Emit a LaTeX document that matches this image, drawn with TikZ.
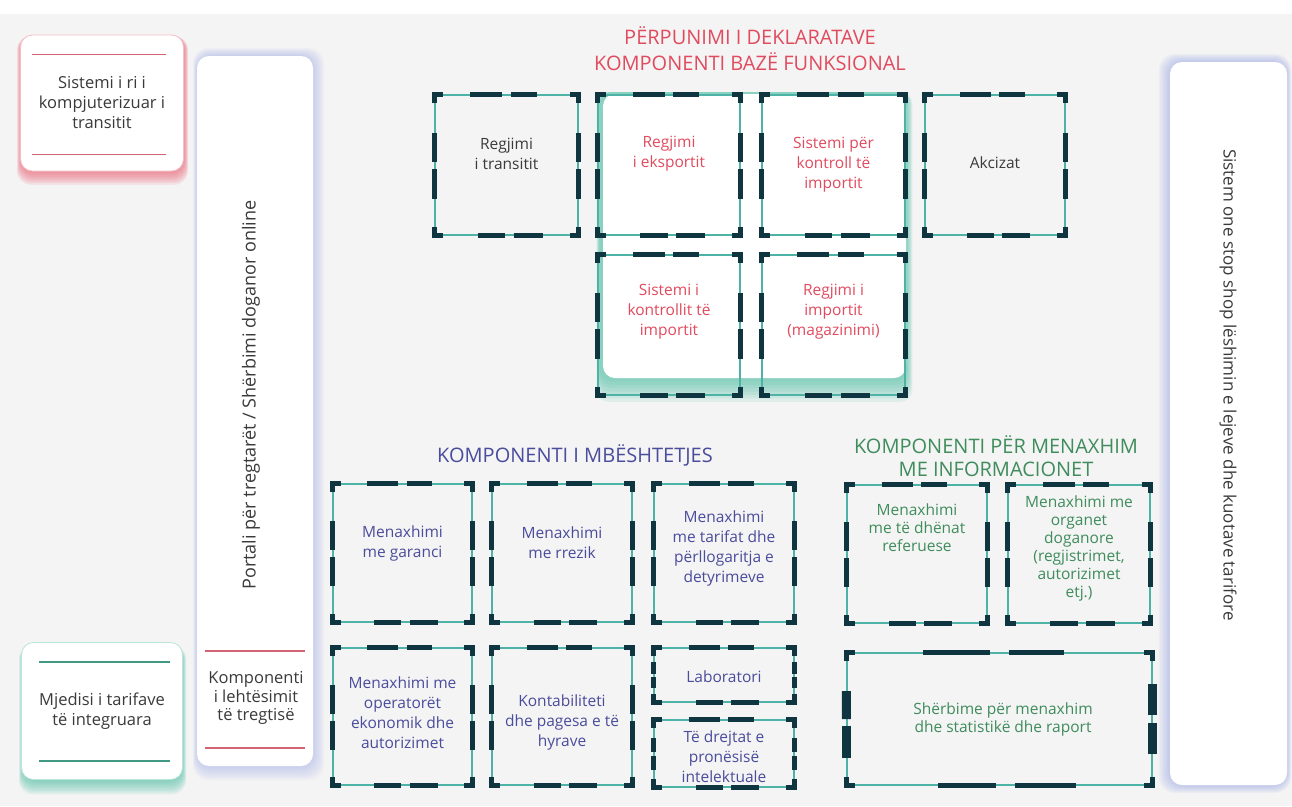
\documentclass[tikz,border=0pt]{standalone}
\usepackage{fontspec}
\setmainfont{Open Sans}
\usetikzlibrary{calc}
\definecolor{bgc}{HTML}{F4F4F4}
\definecolor{tline}{HTML}{4DB3A6}
\definecolor{navy}{HTML}{0E3540}
\definecolor{redt}{HTML}{E04B5E}
\definecolor{bluet}{HTML}{4A4C9C}
\definecolor{greent}{HTML}{3F8C5C}
\definecolor{txtg}{HTML}{3A3A3A}
\definecolor{glowb}{HTML}{9FACE6}
\definecolor{glowr}{HTML}{EC6F80}
\definecolor{glowt}{HTML}{4FBFA4}
\tikzset{
  cbox/.style={draw=tline, line width=1.3pt, inner sep=0pt},
  dmark/.style={navy, line width=5.5pt},
  btxt/.style={font=\fontsize{15.5}{20}\selectfont, align=center, inner sep=0pt},
  vtxt/.style={text=txtg, inner sep=0pt},
  head/.style={font=\fontsize{20}{26}\selectfont, align=center, inner sep=0pt},
  card/.style={fill=white, rounded corners=12pt, inner sep=0pt, align=center,
    font=\fontsize{16.5}{20}\selectfont, text=txtg}
}
\begin{document}
\begin{tikzpicture}[x=1pt,y=-1pt]
\useasboundingbox (0,0) rectangle (1292,806);
\fill[white] (0,0) rectangle (1292,806);
\fill[bgc] (0,14) rectangle (1292,806);

% side cards with glow
\foreach \i in {1,...,8}
  \fill[glowr, opacity=.13, rounded corners=14pt] (21-\i/2,36) rectangle (184+\i/2,172+\i*1.6);
\node[card, draw=glowr!45, line width=.8pt, minimum width=163pt, minimum height=136pt] (newcts) at (102,103) {Sistemi i ri i\\kompjuterizuar i\\transitit};
\draw[glowr!90!black, line width=1.6pt] ($(newcts.north west)+(12,20)$) -- ($(newcts.north east)+(-18,20)$);
\draw[glowr!90!black, line width=1.6pt] ($(newcts.south west)+(12,-17)$) -- ($(newcts.south east)+(-18,-17)$);

\foreach \i in {1,...,8}
  \fill[glowt, opacity=.11, rounded corners=14pt] (23-\i/2,645) rectangle (182+\i/2,780+\i*1.8);
\node[card, draw=glowt!40, line width=.8pt, minimum width=161pt, minimum height=137pt] (tarif) at (102,711) {Mjedisi i tarifave\\të integruara};
\draw[glowt!80!black, line width=1.6pt] ($(tarif.north west)+(18,20)$) -- ($(tarif.north east)+(-13,20)$);
\draw[glowt!80!black, line width=1.6pt] ($(tarif.south west)+(18,-19)$) -- ($(tarif.south east)+(-13,-19)$);

% portal
\foreach \i in {1,...,8}
  \fill[glowb, opacity=.07, rounded corners=16pt] (197-\i/2,56-\i) rectangle (313+\i*1.4,766+\i*1.8);
\node[card, minimum width=116pt, minimum height=710pt] (portal) at (255,411) {};
\node[vtxt, font=\fontsize{18}{20}\selectfont, rotate=90] (portal-l) at (251,395) {Portali për tregtarët / Shërbimi doganor online};
\draw[glowr!90!black, line width=1.6pt] (205,651) coordinate (lh1) -- (305,651) coordinate (lh2);
\draw[glowr!90!black, line width=1.6pt] (205,748) coordinate (lh3) -- (305,748) coordinate (lh4);
\node[card, fill=none, font=\fontsize{16.5}{18.5}\selectfont] (lehtes) at (256,698) {Komponenti\\i lehtësimit\\të tregtisë};

% one stop shop
\foreach \i in {1,...,8}
  \fill[glowb, opacity=.09, rounded corners=16pt] (1170-\i*1.4,62-\i) rectangle (1287+\i/2,785+\i);
\node[card, minimum width=117pt, minimum height=723pt] (onestop) at (1228.5,423.5) {};
\node[vtxt, font=\fontsize{17}{20}\selectfont, rotate=-90] (onestop-l) at (1228,385) {Sistem one stop shop lëshimin e lejeve dhe kuotave tarifore};

% headings
\node[head, text=redt] (decl) at (750,49) {PËRPUNIMI I DEKLARATAVE\\KOMPONENTI BAZË FUNKSIONAL};
\node[head, text=bluet] (mbesht) at (575,455) {KOMPONENTI I MBËSHTETJES};
\node[head, text=greent, font=\fontsize{20}{23}\selectfont] (info) at (996,456) {KOMPONENTI PËR MENAXHIM\\ME INFORMACIONET};

% card behind the import/export boxes
\foreach \i in {1,...,7}
  \fill[glowt, opacity=.13, rounded corners=12pt] (600-\i/2,92) rectangle (906+\i*.9,378+\i*3.4);
\fill[white, rounded corners=12pt] (603,94) rectangle (906,378);

% boxes
\node[cbox, minimum width=143pt, minimum height=140pt] (transit) at (506.5,165) {};
\node[cbox, minimum width=142pt, minimum height=140pt] (export) at (669,165) {};
\node[cbox, minimum width=143pt, minimum height=140pt] (impctl) at (833.5,165) {};
\node[cbox, minimum width=140pt, minimum height=140pt] (akciza) at (995,165) {};
\node[cbox, minimum width=142pt, minimum height=140pt] (impkont) at (669,325) {};
\node[cbox, minimum width=143pt, minimum height=140pt] (impmag) at (833.5,325) {};
\node[cbox, minimum width=139pt, minimum height=138pt] (garanci) at (402.5,553) {};
\node[cbox, minimum width=140pt, minimum height=138pt] (rrezik) at (562,553) {};
\node[cbox, minimum width=140pt, minimum height=138pt] (tarifa) at (724,553) {};
\node[cbox, minimum width=139pt, minimum height=137pt] (operat) at (402.5,716.5) {};
\node[cbox, minimum width=140pt, minimum height=137pt] (kontab) at (562,716.5) {};
\node[cbox, minimum width=140pt, minimum height=54pt] (labor) at (724,675) {};
\node[cbox, minimum width=140pt, minimum height=67pt] (prones) at (724,753.5) {};
\node[cbox, minimum width=140pt, minimum height=138pt] (refer) at (917,554) {};
\node[cbox, minimum width=142pt, minimum height=138pt] (organ) at (1079,554) {};
\node[cbox, minimum width=305pt, minimum height=132pt] (stat) at (999.5,719) {};

% dashes
\foreach \n in {transit,export,impctl,akciza,impkont,impmag,garanci,rrezik,tarifa,operat,kontab,labor,prones,refer,organ,stat}{
  \draw[dmark] ($(\n.north west)+(0,9)$) -- (\n.north west) -- ($(\n.north west)+(9,0)$);
  \draw[dmark] ($(\n.north east)+(-9,0)$) -- (\n.north east) -- ($(\n.north east)+(0,9)$);
  \draw[dmark] ($(\n.south east)+(0,-9)$) -- (\n.south east) -- ($(\n.south east)+(-9,0)$);
  \draw[dmark] ($(\n.south west)+(9,0)$) -- (\n.south west) -- ($(\n.south west)+(0,-9)$);
  \draw[dmark] ($(\n.north west)!.25!(\n.north east)$) -- ($(\n.north west)!.47!(\n.north east)$);
  \draw[dmark] ($(\n.north west)!.53!(\n.north east)$) -- ($(\n.north west)!.71!(\n.north east)$);
  \draw[dmark] ($(\n.south west)!.30!(\n.south east)$) -- ($(\n.south west)!.49!(\n.south east)$);
  \draw[dmark] ($(\n.south west)!.55!(\n.south east)$) -- ($(\n.south west)!.75!(\n.south east)$);
}
\foreach \n in {transit,export,impctl,akciza,impkont,impmag,garanci,rrezik,tarifa,operat,kontab,labor,prones,refer,organ}{
  \draw[dmark] ($(\n.north west)!.27!(\n.south west)$) -- ($(\n.north west)!.48!(\n.south west)$);
  \draw[dmark] ($(\n.north west)!.53!(\n.south west)$) -- ($(\n.north west)!.74!(\n.south west)$);
  \draw[dmark] ($(\n.north east)!.27!(\n.south east)$) -- ($(\n.north east)!.48!(\n.south east)$);
  \draw[dmark] ($(\n.north east)!.53!(\n.south east)$) -- ($(\n.north east)!.74!(\n.south east)$);
}
\draw[dmark, line width=9pt] ($(stat.north west)!.29!(stat.south west)$) -- ($(stat.north west)!.50!(stat.south west)$);
\draw[dmark, line width=9pt] ($(stat.north west)!.55!(stat.south west)$) -- ($(stat.north west)!.79!(stat.south west)$);
\draw[dmark, line width=9pt] ($(stat.north east)!.24!(stat.south east)$) -- ($(stat.north east)!.47!(stat.south east)$);
\draw[dmark, line width=9pt] ($(stat.north east)!.53!(stat.south east)$) -- ($(stat.north east)!.76!(stat.south east)$);

% texts
\node[btxt, text=txtg] (transit-l) at (506.5,154) {Regjimi\\i transitit};
\node[btxt, text=redt] (export-l) at (669,154) {Regjimi\\i eksportit};
\node[btxt, text=redt] (impctl-l) at (833.5,165) {Sistemi për\\kontroll të\\importit};
\node[btxt, text=txtg] (akciza-l) at (995,163) {Akcizat};
\node[btxt, text=redt] (impkont-l) at (669,311.5) {Sistemi i\\kontrollit të\\importit};
\node[btxt, text=redt] (impmag-l) at (833.5,311.5) {Regjimi i\\importit\\(magazinimi)};
\node[btxt, text=bluet] (garanci-l) at (402.5,543) {Menaxhimi\\me garanci};
\node[btxt, text=bluet] (rrezik-l) at (562,543) {Menaxhimi\\me rrezik};
\node[btxt, text=bluet] (tarifa-l) at (724,548) {Menaxhimi\\me tarifat dhe\\përllogaritja e\\detyrimeve};
\node[btxt, text=bluet] (operat-l) at (402.5,713) {Menaxhimi me\\operatorët\\ekonomik dhe\\autorizimet};
\node[btxt, text=bluet] (kontab-l) at (562,722) {Kontabiliteti\\dhe pagesa e të\\hyrave};
\node[btxt, text=bluet] (labor-l) at (724,677) {Laboratori};
\node[btxt, text=bluet] (prones-l) at (724,757) {Të drejtat e\\pronësisë\\intelektuale};
\node[btxt, text=greent, font=\fontsize{15.5}{18}\selectfont] (refer-l) at (917,528) {Menaxhimi\\me të dhënat\\referuese};
\node[btxt, text=greent, font=\fontsize{15.5}{18}\selectfont] (organ-l) at (1079,548) {Menaxhimi me\\organet\\doganore\\(regjistrimet,\\autorizimet\\etj.)};
\node[btxt, text=greent, font=\fontsize{15.5}{18}\selectfont] (stat-l) at (1003,719) {Shërbime për menaxhim\\dhe statistikë dhe raport};
\end{tikzpicture}
\end{document}
